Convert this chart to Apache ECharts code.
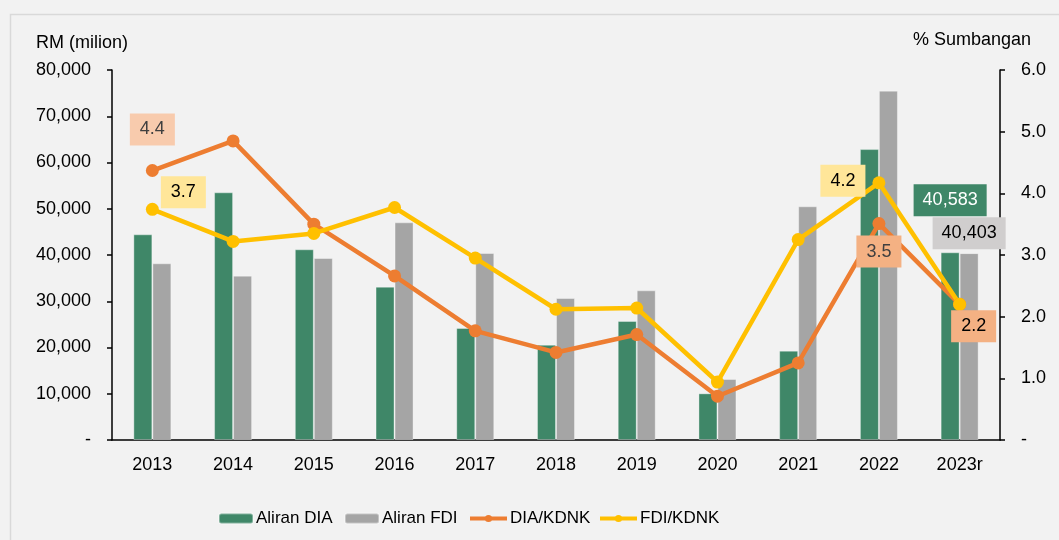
<!DOCTYPE html>
<html>
<head>
<meta charset="utf-8">
<script src="https://cdn.jsdelivr.net/npm/echarts@6/dist/echarts.min.js"></script>
<style>
  html, body { margin: 0; padding: 0; background: #F2F2F2; }
  #main { width: 1059px; height: 540px; }
</style>
</head>
<body>
<div id="main"></div>
<script>
// tahun
var years = ['2013', '2014', '2015', '2016', '2017', '2018', '2019', '2020', '2021', '2022', '2023r'];
// RM juta
var aliranDIA = [44470, 53550, 41230, 33150, 24220, 20610, 25730, 10090, 19320, 62900, 40583];
var aliranFDI = [38200, 35530, 39350, 47060, 40430, 30700, 32360, 13190, 50530, 75530, 40403];
// % sumbangan kepada KDNK
var diaKDNK = [4.37, 4.85, 3.50, 2.66, 1.77, 1.42, 1.71, 0.71, 1.25, 3.51, 2.20];
var fdiKDNK = [3.74, 3.22, 3.35, 3.77, 2.95, 2.12, 2.14, 0.94, 3.25, 4.17, 2.20];
var leftTicks = { min: 0, max: 80000, interval: 10000 };
var rightTicks = { min: 0, max: 6, interval: 1 };

var fontA = 'Liberation Sans, Arial, sans-serif';

function boxLabel(bg, color, offset) {
  return {
    show: true,
    position: 'inside',
    offset: offset,
    backgroundColor: bg,
    color: color,
    fontSize: 18,
    fontFamily: fontA,
    lineHeight: 20,
    padding: [6, 10],
    formatter: function (p) { return p.value.toFixed(1); }
  };
}

// cuma sebahagian titik ada label
var diaLine = diaKDNK.map(function (v) { return { value: v }; });
diaLine[0].label = boxLabel('#F8CBAD', '#404040', [0, -41]);
diaLine[9].label = boxLabel('#F4B183', '#404040', [0, 28]);
diaLine[10].label = boxLabel('#F4B183', '#000', [14, 22]);

var fdiLine = fdiKDNK.map(function (v) { return { value: v }; });
fdiLine[0].label = boxLabel('#FFE699', '#000', [31, -17]);
fdiLine[9].label = boxLabel('#FFE699', '#000', [-36, -2]);

function fmtRM(v) { return Math.round(v).toLocaleString('en-US'); }

var diaBar = aliranDIA.map(function (v) { return { value: v }; });
diaBar[10].label = {
  show: true, position: 'top', distance: 36,
  backgroundColor: '#3F8768', color: '#fff', fontSize: 18, fontFamily: fontA,
  lineHeight: 20, padding: [6, 9], formatter: function (p) { return fmtRM(p.value); }
};
var fdiBar = aliranFDI.map(function (v) { return { value: v }; });
fdiBar[10].label = {
  show: true, position: 'top', distance: 4,
  backgroundColor: '#D0CECE', color: '#000', fontSize: 18, fontFamily: fontA,
  lineHeight: 20, padding: [6, 9], formatter: function (p) { return fmtRM(p.value); }
};

// legenda satu-satu supaya kedudukan sama
function oneLegend(name, left, isLine) {
  var item = { name: name };
  if (isLine) {
    item.lineStyle = { width: 4 };
  }
  return {
    left: left, top: 505,
    itemWidth: isLine ? 37 : 34, itemHeight: isLine ? 9 : 10, itemGap: 0,
    textStyle: { fontSize: 17, color: '#000', fontFamily: fontA, padding: [0, 0, 0, -2] },
    data: [item]
  };
}

var myChart = echarts.init(document.getElementById('main'));
myChart.setOption({
  backgroundColor: '#F2F2F2',
  animation: false,
  textStyle: { fontFamily: fontA },
  graphic: [{
    type: 'rect', left: 8, top: 12, z: -1,
    shape: { width: 1200, height: 700 },
    style: { fill: 'none', stroke: '#D9D9D9', lineWidth: 1.5 }
  }],
  title: [
    { text: 'RM (milion)', left: 31, top: 29, textStyle: { fontSize: 18, fontWeight: 'normal', color: '#000', fontFamily: fontA } },
    { text: '% Sumbangan', right: 23, top: 26, textStyle: { fontSize: 18, fontWeight: 'normal', color: '#000', fontFamily: fontA } }
  ],
  grid: { left: 112, right: 59, top: 70, bottom: 100, containLabel: false },
  legend: [
    oneLegend('Aliran DIA', 213, false),
    oneLegend('Aliran FDI', 339, false),
    oneLegend('DIA/KDNK', 463, true),
    oneLegend('FDI/KDNK', 593, true)
  ],
  xAxis: {
    type: 'category',
    data: years,
    axisLine: { lineStyle: { color: '#000', width: 1.5 } },
    axisTick: { length: 6, lineStyle: { color: '#000', width: 1.5 } },
    axisLabel: { fontSize: 18, color: '#000', margin: 16 }
  },
  yAxis: [{
    type: 'value',
    min: leftTicks.min, max: leftTicks.max, interval: leftTicks.interval,
    splitLine: { show: false },
    axisLine: { show: true, lineStyle: { color: '#000', width: 1.5 } },
    axisTick: { show: true, length: 5, lineStyle: { color: '#000', width: 1.5 } },
    axisLabel: { fontSize: 18, color: '#000', margin: 21,
      formatter: function (v) { return v === 0 ? '-' : fmtRM(v); } }
  }, {
    type: 'value',
    min: rightTicks.min, max: rightTicks.max, interval: rightTicks.interval,
    splitLine: { show: false },
    axisLine: { show: true, lineStyle: { color: '#000', width: 1.5 } },
    axisTick: { show: true, length: 5, lineStyle: { color: '#000', width: 1.5 } },
    axisLabel: { fontSize: 18, color: '#000', margin: 21,
      formatter: function (v) { return v === 0 ? '-' : v.toFixed(1); } }
  }],
  series: [{
    name: 'Aliran DIA', type: 'bar', data: diaBar,
    barWidth: 19, barGap: '0%',
    itemStyle: { color: '#3F8768', borderColor: 'rgba(255,255,255,0.35)', borderWidth: 1 }
  }, {
    name: 'Aliran FDI', type: 'bar', data: fdiBar,
    barWidth: 19, barGap: '0%',
    itemStyle: { color: '#A5A5A5', borderColor: 'rgba(255,255,255,0.35)', borderWidth: 1 }
  }, {
    name: 'DIA/KDNK', type: 'line', yAxisIndex: 1, data: diaLine,
    symbol: 'circle', symbolSize: 13,
    lineStyle: { color: '#ED7D31', width: 4.5 },
    itemStyle: { color: '#ED7D31' }
  }, {
    name: 'FDI/KDNK', type: 'line', yAxisIndex: 1, data: fdiLine,
    symbol: 'circle', symbolSize: 13,
    lineStyle: { color: '#FFC000', width: 4.5 },
    itemStyle: { color: '#FFC000' }
  }]
});
</script>
</body>
</html>
